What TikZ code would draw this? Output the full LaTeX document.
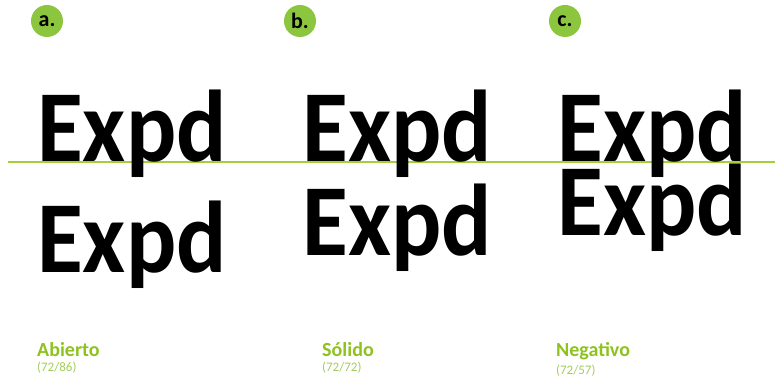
\documentclass[tikz,border=0pt]{standalone}
\usepackage{graphicx}
\usepackage{fontspec}
\setmainfont{Carlito}
\usepackage{tikz}
\usetikzlibrary{positioning}
\definecolor{leafgreen}{HTML}{8CC63F}
\definecolor{capgreen}{HTML}{8DC21F}
\definecolor{notegreen}{HTML}{A3CC5E}
\definecolor{rulegreen}{HTML}{A6CE39}
\newcommand{\expd}{\scalebox{0.92}[1]{Expd}}

\begin{document}
\begin{tikzpicture}[x=1pt, y=-1pt,
      badge/.style={circle, fill=leafgreen, minimum size=32pt, inner sep=0pt,
        font=\bfseries\fontsize{22}{22}\selectfont},
      sample/.style={anchor=base west, inner sep=0pt,
        font=\bfseries\fontsize{102}{102}\selectfont},
      caption/.style={anchor=base west, inner sep=0pt, text=capgreen,
        font=\bfseries\fontsize{20}{20}\selectfont},
      note/.style={inner sep=0pt, text=notegreen,
        font=\fontsize{13}{13}\selectfont}]
    \useasboundingbox (0,0) rectangle (775,379);
    % baseline of the first line
    \draw[rulegreen, line width=1.5pt] (8,162) -- (775,162);

    % a. open
    \node[badge] (badge-a) at (47,21) {a.};
    \node[sample] (abierto-top) at (37,162) {\expd};
    \node[sample] (abierto-bot) at (37,272) {\expd};
    \node[caption] (abierto) at (37,356) {Abierto};
    \node[note, below=5pt of abierto.south west, anchor=north west] (abierto-note) {(72/86)};

    % b. solid
    \node[badge] (badge-b) at (300,21) {b.};
    \node[sample] (solido-top) at (302,162) {\expd};
    \node[sample] (solido-bot) at (302,255) {\expd};
    \node[caption] (solido) at (322,356) {Sólido};
    \node[note, below=5pt of solido.south west, anchor=north west] (solido-note) {(72/72)};

    % c. negative
    \node[badge] (badge-c) at (565,21) {c.};
    \node[sample] (negativo-top) at (557,162) {\expd};
    \node[sample] (negativo-bot) at (557,235) {\expd};
    \node[caption] (negativo) at (556,356) {Negativo};
    \node[note, below=5pt of negativo.south west, anchor=north west] (negativo-note) {(72/57)};
  \end{tikzpicture}
\end{document}
